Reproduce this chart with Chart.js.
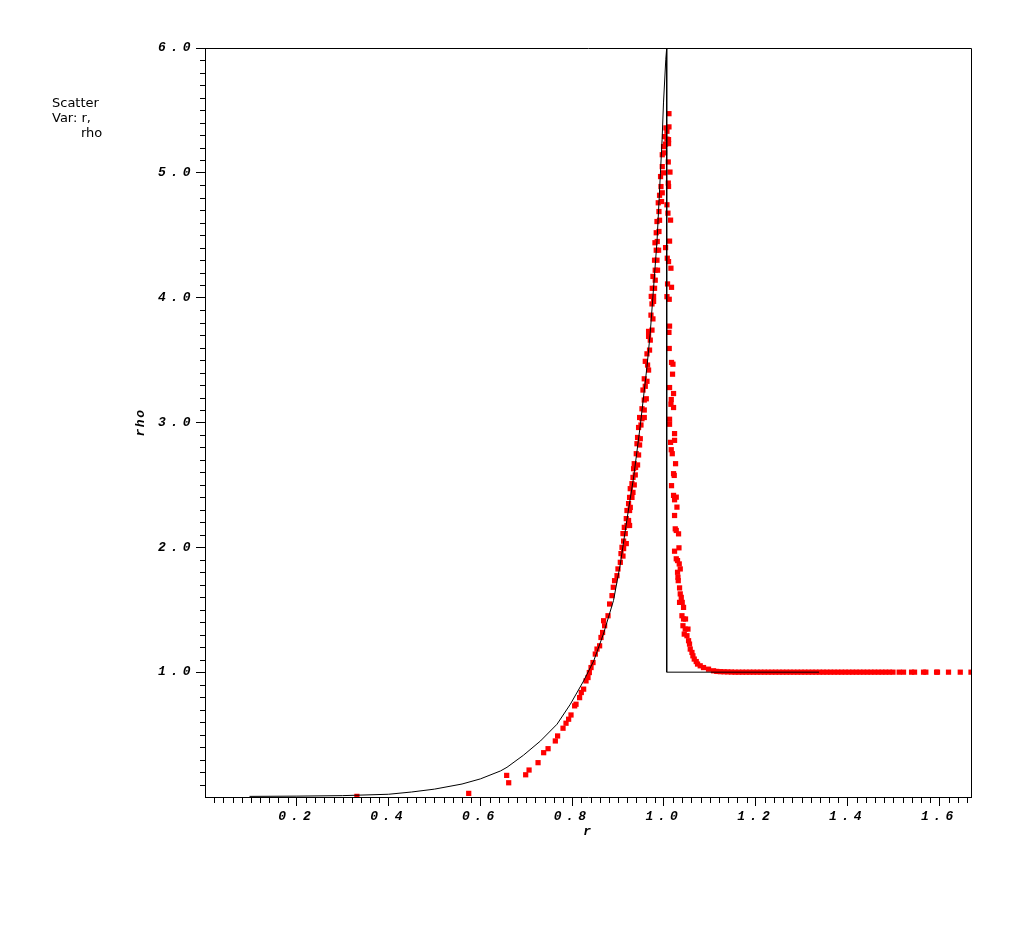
<!DOCTYPE html>
<html>
<head>
<meta charset="utf-8">
<script src="https://cdn.jsdelivr.net/npm/chart.js@4.4.1/dist/chart.umd.min.js"></script>
<style>
  html, body { margin: 0; padding: 0; background: #ffffff; }
  #wrap { position: relative; width: 1024px; height: 937px; }
  #note { position: absolute; left: 52px; top: 95px; font: 13px "DejaVu Sans", sans-serif; line-height: 15px; color: #000; white-space: pre; }
</style>
</head>
<body>
<div id="wrap">
  <canvas id="c" width="1024" height="937"></canvas>
  <div id="note">Scatter
Var: r,
       rho</div>
</div>
<script>
// Analytic (exact) density profile
const curveR   = [0.097, 0.2, 0.3, 0.4, 0.45, 0.5, 0.56, 0.6, 0.644, 0.658, 0.694, 0.731, 0.767, 0.796, 0.825, 0.847, 0.868, 0.890, 0.905, 0.919, 0.934, 0.948, 0.963, 0.970, 0.985, 0.996, 0.999, 1.004, 1.006, 1.006, 1.338];
const curveRho = [0.005, 0.007, 0.011, 0.022, 0.040, 0.063, 0.104, 0.145, 0.209, 0.238, 0.335, 0.449, 0.583, 0.743, 0.930, 1.091, 1.305, 1.573, 1.867, 2.215, 2.563, 2.964, 3.446, 3.714, 4.46, 5.27, 5.56, 5.91, 6.0, 1.0, 1.0];

// Particles: rising (pre-shock) branch
const riseR = [0.331, 0.5746, 0.6573, 0.6617, 0.6987, 0.7061, 0.7257, 0.7379, 0.7475, 0.7633, 0.7683, 0.7801, 0.7866, 0.7923, 0.7975, 0.8054, 0.8084, 0.8162, 0.8199, 0.8250, 0.8302, 0.8345, 0.8374, 0.8411, 0.8454, 0.8504, 0.8541, 0.8598, 0.8628, 0.8663, 0.8707, 0.8685, 0.8781, 0.8816, 0.8868, 0.8896, 0.8924, 0.8977, 0.8998, 0.9049,
  0.9064, 0.9107, 0.9086, 0.9121, 0.9121, 0.9179, 0.9107, 0.9157, 0.9136, 0.9194, 0.9251, 0.9179, 0.9229, 0.9194, 0.9251, 0.9229, 0.9266, 0.9251, 0.9303, 0.9266, 0.9325, 0.9303, 0.9353, 0.9325, 0.9375, 0.9338, 0.9382, 0.9353, 0.9425, 0.9397, 0.9447, 0.9412, 0.9469, 0.9425, 0.9484, 0.9447, 0.9499, 0.9469, 0.9521, 0.9571,
  0.9521, 0.9571, 0.9571, 0.9615, 0.9543, 0.9593, 0.9571, 0.9630, 0.9593, 0.9643, 0.9665, 0.9630, 0.9686, 0.9665, 0.9702, 0.9665, 0.9739, 0.9717, 0.9760, 0.9739, 0.9774, 0.9723, 0.9774, 0.9745, 0.9795, 0.9810, 0.9760, 0.9810, 0.9860, 0.9795, 0.9848, 0.9832, 0.9883, 0.9804, 0.9854, 0.9832, 0.9891, 0.9848, 0.9904, 0.9891,
  0.9876, 0.9948, 0.9904, 0.9963, 0.9935, 0.9926, 0.9991, 0.9963, 0.9963, 1.0013, 0.9991, 1.0034, 1.0013, 1.0065, 1.0043];
const riseRho = [0.005, 0.029, 0.173, 0.114, 0.178, 0.216, 0.275, 0.355, 0.387, 0.449, 0.489, 0.551, 0.591, 0.623, 0.657, 0.730, 0.743, 0.796, 0.837, 0.864, 0.930, 0.957, 0.997, 1.037, 1.077, 1.145, 1.185, 1.211, 1.278, 1.318, 1.372, 1.412, 1.452, 1.546, 1.613, 1.680, 1.733, 1.773, 1.827, 1.88,
  1.95, 1.93, 2.00, 1.99, 2.05, 2.03, 2.11, 2.11, 2.16, 2.175, 2.175, 2.23, 2.215, 2.295, 2.295, 2.35, 2.32, 2.40, 2.40, 2.47, 2.44, 2.51, 2.50, 2.56, 2.58, 2.63, 2.64, 2.67, 2.66, 2.75, 2.74, 2.83, 2.82, 2.88, 2.87, 2.96, 2.98, 3.04, 3.03, 3.04,
  3.11, 3.10, 3.18, 3.19, 3.26, 3.29, 3.35, 3.33, 3.49, 3.46, 3.42, 3.55, 3.58, 3.69, 3.66, 3.73, 3.74, 3.86, 3.83, 3.95, 3.97, 4.01, 4.01, 4.075, 4.075, 4.14, 4.17, 4.22, 4.22, 4.30, 4.30, 4.38, 4.38, 4.44, 4.45, 4.52, 4.53, 4.61, 4.62, 4.69,
  4.76, 4.77, 4.82, 4.84, 4.89, 4.97, 5.00, 5.05, 5.145, 5.16, 5.21, 5.23, 5.29, 5.27, 5.36];

// Particles: post-shock smeared tail
const tailR = [1.0109, 1.0109, 1.0065, 1.0100, 1.0100, 1.0094, 1.0131, 1.0094, 1.0100, 1.0065, 1.0087, 1.0144, 1.0122, 1.0035, 1.0072, 1.0100, 1.0152, 1.0078, 1.0165, 1.0065, 1.0115, 1.0122, 1.0109, 1.0115, 1.0165, 1.0196, 1.0187, 1.0122, 1.0209, 1.0159,
  1.0152, 1.0209, 1.0122, 1.0122, 1.0231, 1.0231, 1.0144, 1.0159, 1.0181, 1.0253, 1.0209, 1.0224, 1.0165, 1.0209, 1.0268, 1.0231, 1.0283, 1.0231, 1.0246, 1.0268, 1.0318, 1.0327, 1.0231, 1.0268, 1.0296, 1.0333, 1.0355, 1.0296, 1.0305, 1.0311,
  1.0340, 1.0355, 1.0377, 1.0340, 1.0398, 1.0427, 1.0392, 1.0427, 1.0470, 1.0414, 1.0464, 1.0523, 1.0442, 1.0501, 1.0536, 1.0557, 1.0573, 1.0610, 1.0631, 1.0660, 1.0703, 1.0732, 1.0790, 1.0862, 1.0971, 1.1080];
const tailRho = [5.474, 5.368, 5.333, 5.266, 5.234, 5.087, 5.006, 4.918, 4.891, 4.744, 4.677, 4.621, 4.453, 4.401, 4.316, 4.289, 4.236, 4.110, 4.083, 4.008, 3.987, 3.772, 3.722, 3.593, 3.481, 3.467, 3.387, 3.280, 3.232, 3.184,
  3.146, 3.120, 3.026, 2.986, 2.911, 2.857, 2.841, 2.782, 2.750, 2.670, 2.590, 2.576, 2.494, 2.416, 2.402, 2.381, 2.322, 2.255, 2.148, 2.135, 2.108, 1.996, 1.969, 1.908, 1.894, 1.867, 1.827, 1.800, 1.760, 1.733,
  1.675, 1.627, 1.599, 1.559, 1.559, 1.519, 1.452, 1.426, 1.426, 1.372, 1.345, 1.345, 1.305, 1.292, 1.252, 1.225, 1.185, 1.158, 1.131, 1.105, 1.085, 1.065, 1.051, 1.037, 1.024, 1.011];

// Particles: undisturbed ambient gas
const flatR = [1.115, 1.123, 1.131, 1.139, 1.147, 1.155, 1.163, 1.171, 1.179, 1.187, 1.195, 1.203, 1.211, 1.219, 1.227, 1.235, 1.243, 1.251, 1.259, 1.267, 1.275, 1.283, 1.291, 1.299, 1.307, 1.315, 1.323, 1.331, 1.339, 1.347,
  1.355, 1.363, 1.371, 1.379, 1.387, 1.395, 1.403, 1.411, 1.419, 1.427, 1.435, 1.443, 1.451, 1.459, 1.467, 1.475, 1.483, 1.491, 1.499, 1.5125, 1.522, 1.5395, 1.546, 1.5656, 1.5706, 1.594, 1.596, 1.620, 1.6456, 1.669];
const flatRho = [1.006, 1.004, 1.003, 1.002, 1.001, 1.0, 1.0, 1.0, 1.0, 1.0, 1.0, 1.0, 1.0, 1.0, 1.0, 1.0, 1.0, 1.0, 1.0, 1.0, 1.0, 1.0, 1.0, 1.0, 1.0, 1.0, 1.0, 1.0, 1.0, 1.0,
  1.0, 1.0, 1.0, 1.0, 1.0, 1.0, 1.0, 1.0, 1.0, 1.0, 1.0, 1.0, 1.0, 1.0, 1.0, 1.0, 1.0, 1.0, 1.0, 1.0, 1.0, 1.0, 1.0, 1.0, 1.0, 1.0, 1.0, 1.0, 1.0, 1.0];

const xMajorLabels = ['0.2', '0.4', '0.6', '0.8', '1.0', '1.2', '1.4', '1.6'];
const yMajorLabels = ['1.0', '2.0', '3.0', '4.0', '5.0', '6.0'];
const xTitle = 'r';
const yTitle = 'rho';

function pts(xs, ys) { return xs.map((v, i) => ({ x: v, y: ys[i] })); }
const particles = [].concat(pts(riseR, riseRho), pts(tailR, tailRho), pts(flatR, flatRho));

const TICK_FONT = { family: '"Liberation Mono", "DejaVu Sans Mono", monospace', size: 13, style: 'italic', weight: 'bold' };

function labelFor(list, v) {
  const s = v.toFixed(1);
  return (Math.abs(v * 10 - Math.round(v * 10)) < 1e-6 && list.indexOf(s) >= 0) ? s : '';
}
function isMajorX(v) { return labelFor(xMajorLabels, v) !== '' && Math.abs(v / 0.2 - Math.round(v / 0.2)) < 1e-6; }
function isMajorY(v) { return labelFor(yMajorLabels, v) !== '' && Math.abs(v - Math.round(v)) < 1e-6; }

const decor = {
  id: 'decor',
  beforeUpdate(chart) { chart.ctx.letterSpacing = '4.5px'; },
  beforeLayout(chart) { chart.ctx.letterSpacing = '4.5px'; },
  beforeDraw(chart) { chart.ctx.letterSpacing = '4.5px'; },
  afterDraw(chart) {
    const ctx = chart.ctx;
    const a = chart.chartArea;
    const xs = chart.scales.x, ys = chart.scales.y;
    ctx.save();
    ctx.letterSpacing = '0px';
    ctx.strokeStyle = '#000';
    ctx.lineWidth = 1;
    ctx.beginPath();
    // frame top and right
    ctx.moveTo(Math.round(a.left) + 0.5, Math.round(a.top) + 0.5);
    ctx.lineTo(Math.round(a.right) + 0.5, Math.round(a.top) + 0.5);
    ctx.lineTo(Math.round(a.right) + 0.5, Math.round(a.bottom) + 0.5);
    // minor ticks
    xs.ticks.forEach(t => {
      if (t.value <= 1e-9 || isMajorX(t.value)) return;
      const px = Math.round(xs.getPixelForValue(t.value)) + 0.5;
      ctx.moveTo(px, a.bottom);
      ctx.lineTo(px, a.bottom + 6);
    });
    ys.ticks.forEach(t => {
      if (t.value <= 1e-9 || isMajorY(t.value)) return;
      const py = Math.round(ys.getPixelForValue(t.value)) + 0.5;
      ctx.moveTo(a.left, py);
      ctx.lineTo(a.left - 5, py);
    });
    ctx.stroke();
    // axis titles
    ctx.fillStyle = '#000';
    ctx.font = 'italic bold 13px "Liberation Mono", "DejaVu Sans Mono", monospace';
    ctx.letterSpacing = '1.5px';
    ctx.textAlign = 'center';
    ctx.textBaseline = 'middle';
    ctx.fillText(xTitle, (a.left + a.right) / 2, 832);
    ctx.translate(141, (a.top + a.bottom) / 2);
    ctx.rotate(-Math.PI / 2);
    ctx.fillText(yTitle, 0, 0);
    ctx.restore();
  }
};

new Chart(document.getElementById('c'), {
  type: 'scatter',
  data: {
    datasets: [
      {
        label: 'exact',
        data: pts(curveR, curveRho),
        showLine: true,
        borderColor: '#000000',
        borderWidth: 1,
        pointRadius: 0,
        tension: 0,
        fill: false
      },
      {
        label: 'rho',
        data: particles,
        pointStyle: 'rect',
        pointRadius: 3.7,
        pointHoverRadius: 3.7,
        backgroundColor: '#ff0000',
        borderWidth: 0
      }
    ]
  },
  options: {
    responsive: false,
    animation: false,
    events: [],
    layout: { padding: { left: 0, top: 48, right: 53, bottom: 0 } },
    plugins: { legend: { display: false }, tooltip: { enabled: false }, title: { display: false } },
    scales: {
      x: {
        type: 'linear',
        min: 0,
        max: 1.669,
        afterFit(s) { s.height = 140; },
        border: { display: true, color: '#000', width: 1 },
        grid: {
          display: true, drawOnChartArea: false, drawTicks: true, tickLength: 9,
          tickColor: (c) => (c.tick && c.tick.value > 1e-9 && isMajorX(c.tick.value)) ? '#000' : 'rgba(0,0,0,0)'
        },
        ticks: {
          stepSize: 0.02,
          includeBounds: false,
          autoSkip: false,
          maxRotation: 0,
          minRotation: 0,
          padding: 3,
          color: '#000',
          font: TICK_FONT,
          callback: (v) => (v > 1e-9 && isMajorX(v)) ? labelFor(xMajorLabels, v) : ''
        }
      },
      y: {
        type: 'linear',
        min: 0,
        max: 6,
        afterFit(s) { s.width = 205; },
        border: { display: true, color: '#000', width: 1 },
        grid: {
          display: true, drawOnChartArea: false, drawTicks: true, tickLength: 9,
          tickColor: (c) => (c.tick && c.tick.value > 1e-9 && isMajorY(c.tick.value)) ? '#000' : 'rgba(0,0,0,0)'
        },
        ticks: {
          stepSize: 0.1,
          includeBounds: false,
          autoSkip: false,
          padding: 1,
          color: '#000',
          font: TICK_FONT,
          callback: (v) => (v > 1e-9 && isMajorY(v)) ? labelFor(yMajorLabels, v) : ''
        }
      }
    }
  },
  plugins: [decor]
});
</script>
</body>
</html>
